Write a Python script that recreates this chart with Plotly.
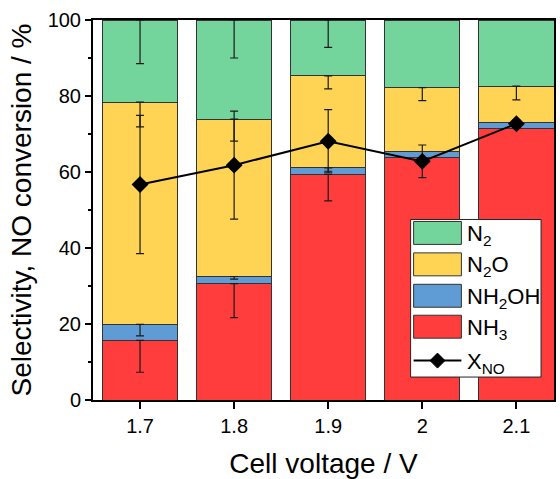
import numpy as np
import plotly.graph_objects as go

# Product selectivity (%) per cell voltage, stacked bottom to top
voltages = ["1.7", "1.8", "1.9", "2", "2.1"]
nh3 = [15.7, 30.6, 59.4, 63.7, 71.4]
nh2oh = [4.2, 1.9, 1.7, 1.7, 1.7]
n2o = [58.5, 41.4, 24.2, 16.8, 9.5]
n2 = [21.6, 26.1, 14.7, 17.8, 17.4]

# Lower error of each selectivity segment (0 = none shown)
nh3_err = [8.4, 8.9, 7.0, 0, 0]
nh2oh_err = [3.0, 0.7, 0.9, 0, 0]
n2o_err = [6.5, 5.8, 3.4, 3.4, 3.6]
n2_err = [11.5, 10.0, 7.2, 0, 0]

# NO conversion (%) with symmetric error
x_no = [56.7, 61.8, 68.1, 62.8, 72.7]
x_no_err = [18.2, 14.2, 8.3, 4.3, 1.0]

series = [
    ("NH<sub>3</sub>", nh3, nh3_err, "#FF3D3D"),
    ("NH<sub>2</sub>OH", nh2oh, nh2oh_err, "#5F9BD4"),
    ("N<sub>2</sub>O", n2o, n2o_err, "#FFD455"),
    ("N<sub>2</sub>", n2, n2_err, "#73D59B"),
]

FONT = "Liberation Sans, Arial, sans-serif"
W, H = 560, 479
ML, MR, MT, MB = 93, 4, 20, 78

fig = go.Figure()

for name, vals, _, color in series:
    fig.add_trace(go.Bar(
        x=voltages, y=vals, name=name, width=0.8,
        marker=dict(color=color, line=dict(color="#333333", width=1)),
        showlegend=False,
    ))

# Error bars drawn downward from the top of each stacked segment
cum = np.zeros(len(voltages))
for name, vals, err, _ in series:
    cum = cum + np.array(vals)
    tops = [float(t) if e > 0 else None for t, e in zip(cum, err)]
    fig.add_trace(go.Scatter(
        x=voltages, y=tops, mode="markers",
        marker=dict(size=1, opacity=0),
        error_y=dict(type="data", symmetric=False,
                     array=[0] * len(err), arrayminus=err,
                     color="#1a1a1a", thickness=1.2, width=4),
        showlegend=False, hoverinfo="skip",
    ))

fig.add_trace(go.Scatter(
    x=voltages, y=x_no, mode="lines+markers", name="X<sub>NO</sub>",
    line=dict(color="black", width=2),
    marker=dict(symbol="diamond", size=13, color="black"),
    error_y=dict(type="data", array=x_no_err, color="#1a1a1a",
                 thickness=1.2, width=4),
    showlegend=False,
))

# Hand-drawn legend (pixel positions converted to paper coordinates)
pw, ph = W - ML - MR, H - MT - MB


def px(x):
    return (x - ML) / pw


def py(y):
    return (H - MB - y) / ph


shapes = [dict(type="rect", xref="paper", yref="paper",
               x0=px(412), x1=px(543), y0=py(378), y1=py(220),
               fillcolor="white", line=dict(color="#222222", width=1),
               layer="above")]
annotations = []
legend_rows = [("N<sub>2</sub>", "#73D59B", 233.5),
               ("N<sub>2</sub>O", "#FFD455", 265),
               ("NH<sub>2</sub>OH", "#5F9BD4", 296.5),
               ("NH<sub>3</sub>", "#FF3D3D", 327.5)]
for label, color, yc in legend_rows:
    shapes.append(dict(type="rect", xref="paper", yref="paper",
                       x0=px(415), x1=px(463), y0=py(yc + 11.5), y1=py(yc - 11.5),
                       fillcolor=color, line=dict(color="#333333", width=1),
                       layer="above"))
    annotations.append(dict(xref="paper", yref="paper", x=px(467), y=py(yc + 2),
                            text=label, showarrow=False, xanchor="left",
                            yanchor="middle",
                            font=dict(family=FONT, size=22, color="black")))
yx = 361.5
shapes.append(dict(type="line", xref="paper", yref="paper",
                   x0=px(415), x1=px(463), y0=py(yx), y1=py(yx),
                   line=dict(color="black", width=2), layer="above"))
d = 7.5
shapes.append(dict(type="path", xref="paper", yref="paper",
                   path=f"M {px(439 - d)},{py(yx)} L {px(439)},{py(yx - d)} "
                        f"L {px(439 + d)},{py(yx)} L {px(439)},{py(yx + d)} Z",
                   fillcolor="black", line=dict(color="black", width=1),
                   layer="above"))
annotations.append(dict(xref="paper", yref="paper", x=px(467), y=py(yx + 2),
                        text="X<sub>NO</sub>", showarrow=False, xanchor="left",
                        yanchor="middle",
                        font=dict(family=FONT, size=22, color="black")))

fig.update_layout(
    width=W, height=H,
    margin=dict(l=ML, r=MR, t=MT, b=MB),
    barmode="stack",
    plot_bgcolor="white", paper_bgcolor="white",
    font=dict(family=FONT, color="black"),
    shapes=shapes, annotations=annotations,
    xaxis=dict(
        type="category", range=[-0.5, 4.4],
        showline=True, linecolor="black", linewidth=2, mirror=True,
        ticks="outside", ticklen=7, tickwidth=1.5, tickcolor="black",
        tickfont=dict(size=20, family=FONT),
        title=dict(text="Cell voltage / V", font=dict(size=28, family=FONT),
                   standoff=18),
        showgrid=False, zeroline=False,
    ),
    yaxis=dict(
        range=[0, 100], tickvals=[0, 20, 40, 60, 80, 100],
        showline=True, linecolor="black", linewidth=2, mirror=True,
        ticks="outside", ticklen=6, tickwidth=1.5, tickcolor="black",
        minor=dict(dtick=10, ticks="outside", ticklen=3, tickwidth=1.5,
                   tickcolor="black", showgrid=False),
        tickfont=dict(size=20, family=FONT),
        title=dict(text="Selectivity, NO conversion / %",
                   font=dict(size=28, family=FONT), standoff=8),
        showgrid=False, zeroline=False,
    ),
)

fig.write_html("out.html")
